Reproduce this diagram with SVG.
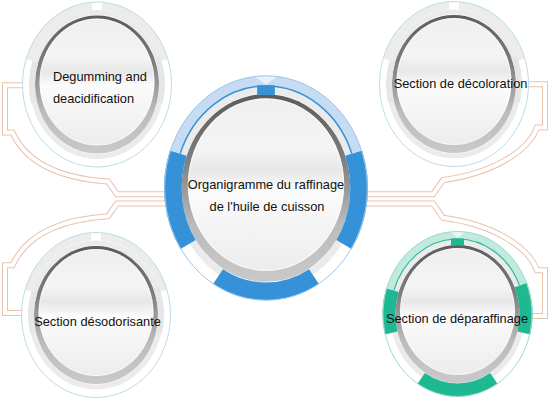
<svg xmlns="http://www.w3.org/2000/svg" width="550" height="400" viewBox="0 0 550 400">
<style>
.pipe-o{fill:none;stroke:#e9c2ab;stroke-width:6}
.pipe-i{fill:none;stroke:#fff;stroke-width:4}
.rim{fill:none;stroke-width:1;vector-effect:non-scaling-stroke}
.rim-gray{stroke:#bcdce5}
.rim-blue{stroke:#9cc7ec}
.rim-green{stroke:#9cdbc8}
.arc{fill:none}
.seg{stroke-width:13}
.soft{stroke-width:7.5}
.thin{stroke-width:1.1}
.blue{stroke:#3592d8}
.blue-f{fill:#3592d8}
.blue-soft{stroke:#c6dcf2}
.green{stroke:#1eb893}
.green-f{fill:#1eb893}
.green-soft{stroke:#c2e9dd}
.gray-soft{stroke:#ececec}
.gray-seg{stroke:#e6e6e6;stroke-width:6}
.lbl{font-family:"Liberation Sans",Arial,sans-serif;font-size:12.8px;fill:#111}
.mid{text-anchor:middle}
</style>
<defs>
<linearGradient id="bezel" x1="0" y1="0" x2="0" y2="1">
<stop offset="0" stop-color="#5c5c5c"/>
<stop offset="0.35" stop-color="#7e7e7e"/>
<stop offset="0.7" stop-color="#bcbcbc"/>
<stop offset="1" stop-color="#c9c9c9"/>
</linearGradient>
<linearGradient id="face" x1="0" y1="0" x2="0" y2="1">
<stop offset="0" stop-color="#efefef"/>
<stop offset="0.3" stop-color="#f4f4f4"/>
<stop offset="0.42" stop-color="#e7e7e7"/>
<stop offset="0.53" stop-color="#fbfbfb"/>
<stop offset="0.78" stop-color="#f3f3f3"/>
<stop offset="1" stop-color="#ececec"/>
</linearGradient>
<g id="base">
<ellipse rx="74.5" ry="82.5" fill="#fff"/>
<ellipse rx="64.5" ry="72" fill="none" stroke="#ebebeb" stroke-width="5"/>
<ellipse rx="62" ry="69" fill="url(#bezel)"/>
<ellipse cy="-2.5" rx="57.5" ry="63.5" fill="url(#face)"/>
<ellipse cy="-2.5" rx="57" ry="63" fill="none" stroke="#fff" stroke-opacity="0.5" stroke-width="1"/>
</g>
<path id="p1" d="M 40 85.3 H 5 V 132.5 H 12.5 C 25 160 55 178 108 181.5 L 117 194.3 H 200"/>
<path id="p2" d="M 40 313 H 5 V 265.3 H 12.5 C 25 237.8 55 219.8 108 216.3 L 117 203.5 H 200"/>
<path id="p3" d="M 510 84.3 H 545 V 127.5 H 537 C 529 150 495 173 443 180 L 433 194.3 H 340"/>
<path id="p4" d="M 340 203.5 H 433 L 443 217.8 C 495 224.8 529 247.8 537 270.3 H 545 V 316 H 510"/>
</defs>

<g id="connectors">
<use href="#p1" class="pipe-o"/>
<use href="#p2" class="pipe-o"/>
<use href="#p3" class="pipe-o"/>
<use href="#p4" class="pipe-o"/>
<use href="#p1" class="pipe-i"/>
<use href="#p2" class="pipe-i"/>
<use href="#p3" class="pipe-i"/>
<use href="#p4" class="pipe-i"/>
</g>

<g id="node-degumming">
<g transform="translate(97 84.5)">
<use href="#base"/>
<path class="arc gray-soft soft" d="M -67.33 -24.35 A 70.8 78.8 0 0 1 -4.94 -78.61"/>
<path class="arc gray-soft soft" d="M 4.94 -78.61 A 70.8 78.8 0 0 1 67.33 -24.35"/>
<path class="arc gray-seg" d="M -62.93 18.03 A 65 72 0 0 1 -61.68 -22.72"/>
<path class="arc gray-seg" d="M 60.09 -27.44 A 65 72 0 0 1 62.93 18.03"/>
<ellipse class="rim rim-gray" rx="74.5" ry="82.5"/>
</g>
<text class="lbl" x="53" y="80.7">Degumming and</text>
<text class="lbl" x="53" y="102.7">deacidification</text>
</g>

<g id="node-decoloration">
<g transform="translate(454 84)">
<use href="#base"/>
<path class="arc gray-soft soft" d="M -67.33 -24.35 A 70.8 78.8 0 0 1 -4.94 -78.61"/>
<path class="arc gray-soft soft" d="M 4.94 -78.61 A 70.8 78.8 0 0 1 67.33 -24.35"/>
<path class="arc gray-seg" d="M -62.93 18.03 A 65 72 0 0 1 -61.68 -22.72"/>
<path class="arc gray-seg" d="M 60.09 -27.44 A 65 72 0 0 1 62.93 18.03"/>
<ellipse class="rim rim-gray" rx="74.5" ry="82.5"/>
</g>
<text class="lbl mid" x="460.5" y="87.7">Section de décoloration</text>
</g>

<g id="node-desodorisante">
<g transform="translate(96 315)">
<use href="#base"/>
<path class="arc gray-soft soft" d="M -67.33 -24.35 A 70.8 78.8 0 0 1 -4.94 -78.61"/>
<path class="arc gray-soft soft" d="M 4.94 -78.61 A 70.8 78.8 0 0 1 67.33 -24.35"/>
<path class="arc gray-seg" d="M -62.93 18.03 A 65 72 0 0 1 -61.68 -22.72"/>
<path class="arc gray-seg" d="M 60.09 -27.44 A 65 72 0 0 1 62.93 18.03"/>
<ellipse class="rim rim-gray" rx="74.5" ry="82.5"/>
</g>
<text class="lbl mid" x="97.5" y="325.7">Section désodorisante</text>
</g>

<g id="node-deparaffinage">
<g transform="translate(457.5 314)">
<use href="#base"/>
<path class="arc green-soft soft" d="M -67.2 -24.9 A 70.8 78.8 0 0 1 65.5 -30"/>
<polygon points="-8,-82.5 8,-82.5 0,-76" fill="#fff" opacity="0.6"/>
<path class="arc green thin" d="M -63.58 -23.67 A 67 75 0 0 1 61.94 -28.58"/>
<path class="arc green seg" d="M -66.32 19.03 A 68.5 76 0 0 1 -65.0 -23.99"/>
<path class="arc green seg" d="M 63.33 -28.96 A 68.5 76 0 0 1 66.32 19.03"/>
<path class="arc green seg" d="M 36.3 64.45 A 68.5 76 0 0 1 -36.3 64.45"/>
<rect class="green-f" x="-6.5" y="-75.5" width="13" height="7"/>
<ellipse class="rim rim-green" rx="74.5" ry="82.5"/>
</g>
<text class="lbl mid" x="457" y="322.7">Section de déparaffinage</text>
</g>

<g id="node-center">
<g transform="translate(266 188) scale(1.36)">
<use href="#base"/>
<path class="arc blue-soft soft" d="M -66.66 -26.56 A 70.8 78.8 0 0 1 66.66 -26.56"/>
<polygon points="-9,-82.5 9,-82.5 0,-76" fill="#fff" opacity="0.6"/>
<path class="arc blue thin" d="M -63.08 -25.29 A 67 75 0 0 1 63.08 -25.29"/>
<path class="arc blue seg" d="M -57.32 41.62 A 68.5 76 0 0 1 -64.49 -25.62"/>
<path class="arc blue seg" d="M 64.49 -25.62 A 68.5 76 0 0 1 57.32 41.62"/>
<path class="arc blue seg" d="M 35.28 65.15 A 68.5 76 0 0 1 -35.28 65.15"/>
<rect class="blue-f" x="-6.5" y="-75.5" width="13" height="7"/>
<ellipse class="rim rim-blue" rx="74.5" ry="82.5"/>
</g>
<text class="lbl mid" x="266" y="189.3">Organigramme du raffinage</text>
<text class="lbl mid" x="267" y="211.3">de l'huile de cuisson</text>
</g>
</svg>
